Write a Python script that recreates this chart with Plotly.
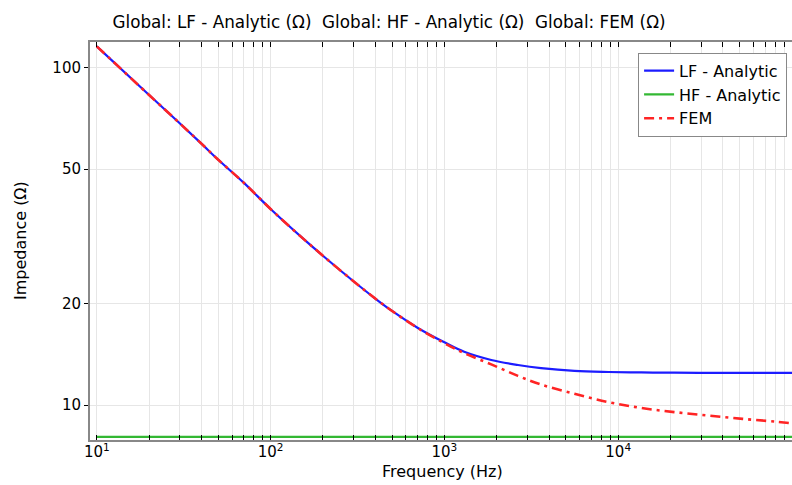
import plotly.graph_objects as go

freq = [10, 20, 30, 40, 50, 70, 100, 150, 200, 300, 400, 500, 700, 1000,
        1300, 1860, 2650, 3600, 5600, 8800, 13600, 21000, 33000, 52000,
        80000, 100000]
lf_analytic = [115.6, 82.9, 68.4, 59.5, 53.3, 45.6, 38.1, 31.5, 27.7, 23.27,
               20.68, 19.0, 16.95, 15.34, 14.38, 13.6, 13.14, 12.86, 12.62,
               12.53, 12.49, 12.47, 12.46, 12.46, 12.46, 12.46]
fem = [115.6, 82.9, 68.4, 59.5, 53.3, 45.6, 38.1, 31.5, 27.7, 23.27,
       20.68, 19.0, 16.93, 15.25, 14.25, 13.2, 12.2, 11.5, 10.8, 10.2,
       9.8, 9.53, 9.31, 9.10, 8.93, 8.83]
hf_value = 8.05
hf_analytic = [hf_value for _ in freq]

x_tickvals = [m * 10 ** k for k in range(1, 5) for m in range(1, 10)]
x_ticktext = [f"10<sup>{k}</sup>" if m == 1 else "" for k in range(1, 5) for m in range(1, 10)]
y_tickvals = [10, 20, 50, 100]
y_ticktext = ["10", "20", "50", "100"]

title_text = "Global: LF - Analytic (Ω)\u00a0 Global: HF - Analytic (Ω)\u00a0 Global: FEM (Ω)"

fig = go.Figure()
fig.add_trace(go.Scatter(x=freq, y=lf_analytic, mode="lines", name="LF - Analytic",
                         line=dict(color="#1c1cff", width=2.2, shape="spline")))
fig.add_trace(go.Scatter(x=freq, y=hf_analytic, mode="lines", name="HF - Analytic",
                         line=dict(color="#33b833", width=2.2)))
fig.add_trace(go.Scatter(x=freq, y=fem, mode="lines", name="FEM",
                         line=dict(color="#ff2424", width=2.6, dash="10px,5px,3px,5px",
                                   shape="spline")))

fig.update_layout(
    width=792, height=485,
    margin=dict(l=90, r=0, t=42, b=45, autoexpand=False),
    paper_bgcolor="white", plot_bgcolor="white",
    font=dict(family="DejaVu Sans", size=15, color="black"),
    title=dict(text=title_text,
               x=389 / 792, xref="container", xanchor="center",
               y=1 - 22 / 485, yref="container", yanchor="middle",
               font=dict(family="DejaVu Sans", size=16.8, color="black")),
    showlegend=True,
    legend=dict(x=0.993, y=0.973, xanchor="right", yanchor="top",
                bgcolor="white", bordercolor="#888888", borderwidth=1,
                font=dict(family="DejaVu Sans", size=16, color="black"),
                tracegroupgap=0, itemwidth=30),
    xaxis=dict(type="log", range=[0.961, 5.0], automargin=False,
               tickmode="array", tickvals=x_tickvals, ticktext=x_ticktext,
               ticks="inside", ticklen=5, tickcolor="black", tickwidth=1,
               ticklabelstandoff=-3,
               showgrid=True, gridcolor="#e6e6e6", gridwidth=1,
               showline=True, linecolor="#888888", linewidth=2, mirror="ticks",
               zeroline=False,
               tickfont=dict(family="DejaVu Sans", size=15)),
    yaxis=dict(type="log", range=[0.8964, 2.0758], automargin=False,
               tickmode="array", tickvals=y_tickvals, ticktext=y_ticktext,
               ticks="outside", ticklen=4, tickcolor="black", tickwidth=1,
               showgrid=True, gridcolor="#e6e6e6", gridwidth=1,
               showline=True, linecolor="#888888", linewidth=2, mirror=False,
               zeroline=False,
               tickfont=dict(family="DejaVu Sans", size=15)),
    annotations=[
        dict(text="Frequency (Hz)", xref="paper", yref="paper",
             x=(442 - 90) / 702, y=(440 - 472) / 398, xanchor="center", yanchor="middle",
             showarrow=False, font=dict(family="DejaVu Sans", size=16, color="black")),
        dict(text="Impedance (Ω)", xref="paper", yref="paper",
             x=(20 - 90) / 702, y=(440 - 241) / 398, xanchor="center", yanchor="middle",
             textangle=-90, showarrow=False,
             font=dict(family="DejaVu Sans", size=16, color="black")),
    ],
)

fig.write_html("out.html", config={"displayModeBar": False},
               post_script="document.body.style.margin='0';")
